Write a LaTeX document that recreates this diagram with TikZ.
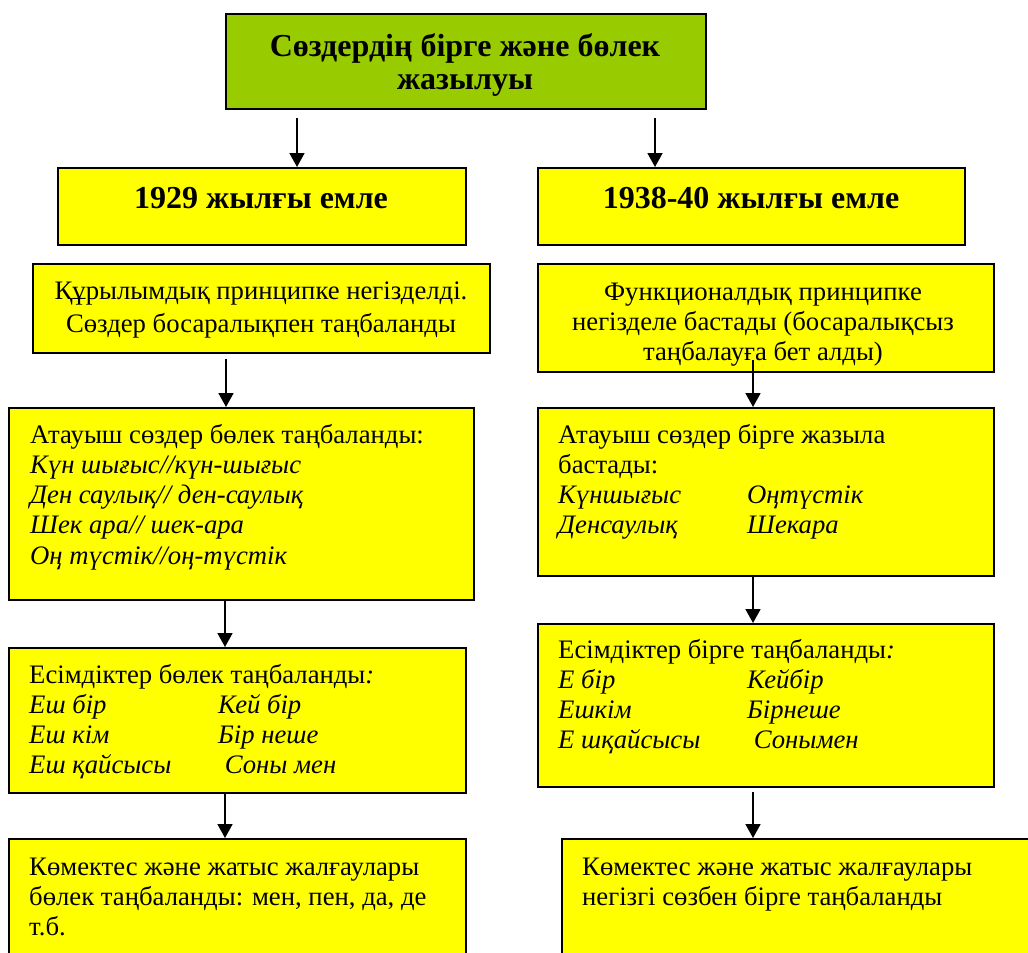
\documentclass[tikz,border=0pt]{standalone}
\usepackage{fontspec}
\setmainfont{Liberation Serif}
\usetikzlibrary{arrows.meta}
\newcommand\bodysize{\fontsize{26.7}{30.3}\selectfont}
\newcommand\headsize{\fontsize{32}{33}\selectfont\bfseries}
\newcommand\twocol[2]{\makebox[189pt][l]{\itshape #1}\textit{#2}}
\begin{document}
\begin{tikzpicture}[x=1pt,y=-1pt,
  box/.style={draw=black, line width=1.5pt, fill=boxyellow, inner sep=0pt,
              anchor=north west},
  txt/.style={inner sep=0pt, anchor=base west, font=\bodysize},
  ctxt/.style={inner sep=0pt, anchor=base, font=\bodysize},
  arr/.style={line width=1.8pt, -{Triangle[width=15pt,length=14pt]}}]
\definecolor{boxyellow}{RGB}{255,255,0}
\definecolor{headgreen}{RGB}{153,204,0}
\useasboundingbox (0,0) rectangle (1028,953);
\clip (0,0) rectangle (1028,953);

% boxes
\node[box, fill=headgreen, minimum width=480pt, minimum height=95pt] (T) at (225,13) {};
\node[box, minimum width=408pt, minimum height=77pt]  (A1) at (57,167) {};
\node[box, minimum width=427pt, minimum height=77pt]  (B1) at (537,167) {};
\node[box, minimum width=457pt, minimum height=89pt]  (A2) at (32,263) {};
\node[box, minimum width=456pt, minimum height=108pt] (B2) at (537,263) {};
\node[box, minimum width=465pt, minimum height=192pt] (A3) at (8,407) {};
\node[box, minimum width=456pt, minimum height=168pt] (B3) at (537,407) {};
\node[box, minimum width=457pt, minimum height=145pt] (A4) at (8,647) {};
\node[box, minimum width=456pt, minimum height=163pt] (B4) at (537,623) {};
\node[box, minimum width=457pt, minimum height=150pt] (A5) at (8,838) {};
\node[box, minimum width=480pt, minimum height=150pt] (B5) at (561,838) {};

% texts
\node[ctxt, font=\headsize] (Tt) at (465,56)
  {\begin{tabular}[t]{@{}c@{}}Сөздердің бірге және бөлек\\ жазылуы\end{tabular}};
\node[ctxt, font=\headsize] (A1t) at (261,208) {1929 жылғы емле};
\node[ctxt, font=\headsize] (B1t) at (751,208) {1938-40 жылғы емле};
\node[ctxt, font=\fontsize{26.7}{33}\selectfont] (A2t) at (261,299)
  {\begin{tabular}[t]{@{}c@{}}Құрылымдық принципке негізделді.\\ Сөздер босаралықпен таңбаланды\end{tabular}};
\node[ctxt] (B2t) at (763,300)
  {\begin{tabular}[t]{@{}c@{}}Функционалдық принципке\\ негізделе бастады (босаралықсыз\\ таңбалауға бет алды)\end{tabular}};
\node[txt] (A3t) at (30,443)
  {\begin{tabular}[t]{@{}l@{}}Атауыш сөздер бөлек таңбаланды:\\
   \textit{Күн шығыс//күн-шығыс}\\
   \textit{Ден саулық// ден-саулық}\\
   \textit{Шек ара// шек-ара}\\
   \textit{Оң түстік//оң-түстік}\end{tabular}};
\node[txt] (B3t) at (558,443)
  {\begin{tabular}[t]{@{}l@{}}Атауыш сөздер бірге жазыла\\
   бастады:\\
   \twocol{Күншығыс}{Оңтүстік}\\
   \twocol{Денсаулық}{Шекара}\end{tabular}};
\node[txt] (A4t) at (29,683)
  {\begin{tabular}[t]{@{}l@{}}Есімдіктер бөлек таңбаланды\textit{:}\\
   \twocol{Еш бір}{Кей бір}\\
   \twocol{Еш кім}{Бір неше}\\
   \twocol{Еш қайсысы}{\ Соны мен}\end{tabular}};
\node[txt] (B4t) at (558,658)
  {\begin{tabular}[t]{@{}l@{}}Есімдіктер бірге таңбаланды\textit{:}\\
   \twocol{Е бір}{Кейбір}\\
   \twocol{Ешкім}{Бірнеше}\\
   \twocol{Е шқайсысы}{\ Сонымен}\end{tabular}};
\node[txt] (A5t) at (29,875)
  {\begin{tabular}[t]{@{}l@{}}Көмектес және жатыс жалғаулары\\
   бөлек таңбаланды: мен, пен, да, де\\
   т.б.\end{tabular}};
\node[txt] (B5t) at (582,875)
  {\begin{tabular}[t]{@{}l@{}}Көмектес және жатыс жалғаулары\\
   негізгі сөзбен бірге таңбаланды\end{tabular}};

% connectors
\coordinate (sA1) at (297,118);
\coordinate (sB1) at (655,118);
\coordinate (sA3) at (226,359);
\coordinate (sB3) at (753,360);
\coordinate (xA) at (225,0);
\coordinate (sB5) at (753,792);
\draw[arr] (sA1) -- (sA1 |- A1.north);
\draw[arr] (sB1) -- (sB1 |- B1.north);
\draw[arr] (sA3) -- (sA3 |- A3.north);
\draw[arr] (sB3) -- (sB3 |- B3.north);
\draw[arr] (A3.south -| xA) -- (A4.north -| xA);
\draw[arr] (A4.south -| xA) -- (A5.north -| xA);
\draw[arr] (B3.south -| sB3) -- (B4.north -| sB3);
\draw[arr] (sB5) -- (sB5 |- B5.north);
\end{tikzpicture}
\end{document}
